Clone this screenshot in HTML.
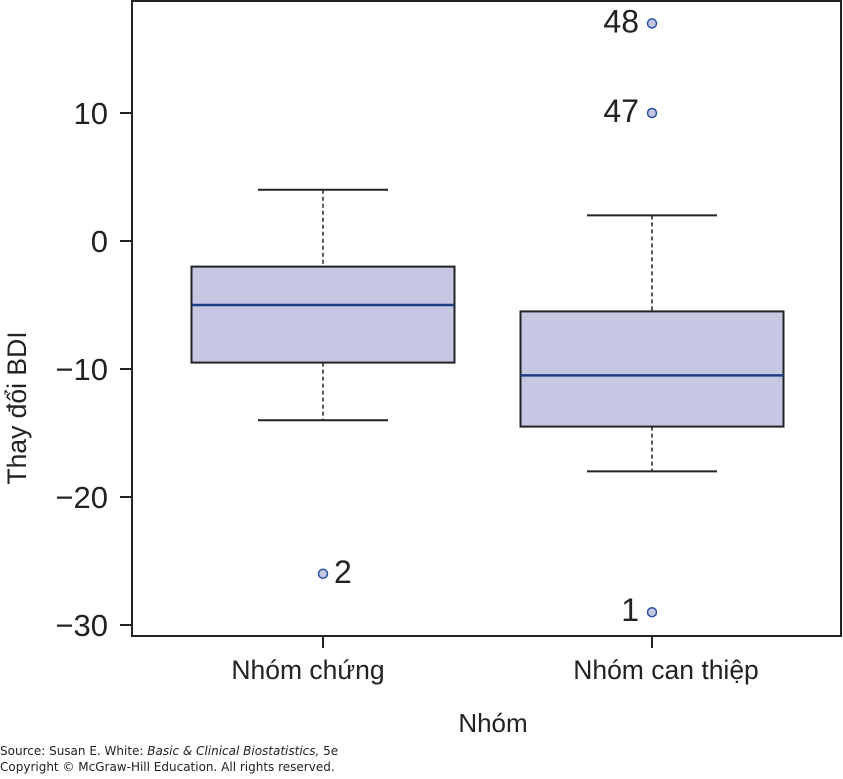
<!DOCTYPE html>
<html><head><meta charset="utf-8"><style>
body{margin:0;background:#fff;width:843px;height:774px;overflow:hidden;font-family:"Liberation Sans","Noto Sans CJK SC",sans-serif}
svg text{font-family:"Liberation Sans","Noto Sans CJK SC",sans-serif;fill:#222}
svg text.note{font-family:"DejaVu Sans",sans-serif}
</style></head><body>
<svg id="chart" width="843" height="774"></svg>
<script>
const groups=["Nhóm chứng","Nhóm can thiệp"];
const q1=[-9.5,-14.5];
const q3=[-2,-5.5];
const medians=[-5,-10.5];
const whiskLo=[-14,-18];
const whiskHi=[4,2];
const outlierGroup=[0,1,1,1];
const outlierVal=[-26,-29,10,17];
const outlierLabel=["2","1","47","48"];
const outlierSide=["right","left","left","left"];
const yTicks=[10,0,-10,-20,-30];

const NS="http://www.w3.org/2000/svg";
const svg=document.getElementById('chart');
function mk(t,a,p){const e=document.createElementNS(NS,t);for(const k in a)e.setAttribute(k,a[k]);(p||svg).appendChild(e);return e;}
const L=132,R=841,T=1,B=636;
const y=v=>241-12.8*v;
const xc=i=>[323,652][i];
const labelOff=[-15,14];
const halfW=131.5;

let e=mk('rect',{x:L,y:T,width:R-L,height:B-T,fill:'none',stroke:'#222','stroke-width':2});


yTicks.forEach(v=>{
  let t=mk('line',{x1:120,x2:L,y1:y(v),y2:y(v),stroke:'#222','stroke-width':2});
  
  let l=mk('text',{x:108,y:y(v)+11,'text-anchor':'end','font-size':31});
  l.textContent=v<0?'\u2212'+Math.abs(v):String(v);
  
});

groups.forEach((g,i)=>{
  const cx=xc(i);
  let tk=mk('line',{x1:cx,x2:cx,y1:B,y2:648,stroke:'#222','stroke-width':2});
  
  let lb=mk('text',{x:cx+labelOff[i],y:679,'text-anchor':'middle','font-size':26.5});
  lb.textContent=g;
  
  let w1=mk('line',{x1:cx,x2:cx,y1:y(whiskHi[i]),y2:y(q3[i]),stroke:'#222','stroke-width':1.5,'stroke-dasharray':'4,3'});
  
  let w2=mk('line',{x1:cx,x2:cx,y1:y(q1[i]),y2:y(whiskLo[i]),stroke:'#222','stroke-width':1.5,'stroke-dasharray':'4,3'});
  
  let c1=mk('line',{x1:cx-65,x2:cx+65,y1:y(whiskHi[i]),y2:y(whiskHi[i]),stroke:'#222','stroke-width':2});
  
  let c2=mk('line',{x1:cx-65,x2:cx+65,y1:y(whiskLo[i]),y2:y(whiskLo[i]),stroke:'#222','stroke-width':2});
  
  let bx=mk('rect',{x:cx-halfW,y:y(q3[i]),width:2*halfW,height:y(q1[i])-y(q3[i]),fill:'#c5c7e3',stroke:'#222','stroke-width':2});
  
  let md=mk('line',{x1:cx-halfW,x2:cx+halfW,y1:y(medians[i]),y2:y(medians[i]),stroke:'#1f3f85','stroke-width':2.5});
  
});

outlierVal.forEach((v,k)=>{
  const cx=xc(outlierGroup[k]);
  let c=mk('circle',{cx:cx,cy:y(v),r:4.5,fill:'#c5c7e3',stroke:'#2a52a0','stroke-width':1.5});
  
  const right=outlierSide[k]==='right';
  let t=mk('text',{x:right?cx+11:cx-13,y:y(v)+9,'text-anchor':right?'start':'end','font-size':32});
  t.textContent=outlierLabel[k];
  
});

let xt=mk('text',{x:493,y:732,'text-anchor':'middle','font-size':26});xt.textContent='Nhóm';

let yt=mk('text',{x:0,y:0,'text-anchor':'middle','font-size':26.5,transform:'translate(26,408) rotate(-90)'});yt.textContent='Thay đổi BDI';

let s1=mk('text',{x:0,y:755,'font-size':12,'class':'note'});
s1.innerHTML='Source: Susan E. White: <tspan font-style="italic">Basic &amp; Clinical Biostatistics,</tspan> 5e';

let s2=mk('text',{x:0,y:771,'font-size':12,'class':'note'});s2.textContent='Copyright © McGraw-Hill Education. All rights reserved.';

</script>
</body></html>
